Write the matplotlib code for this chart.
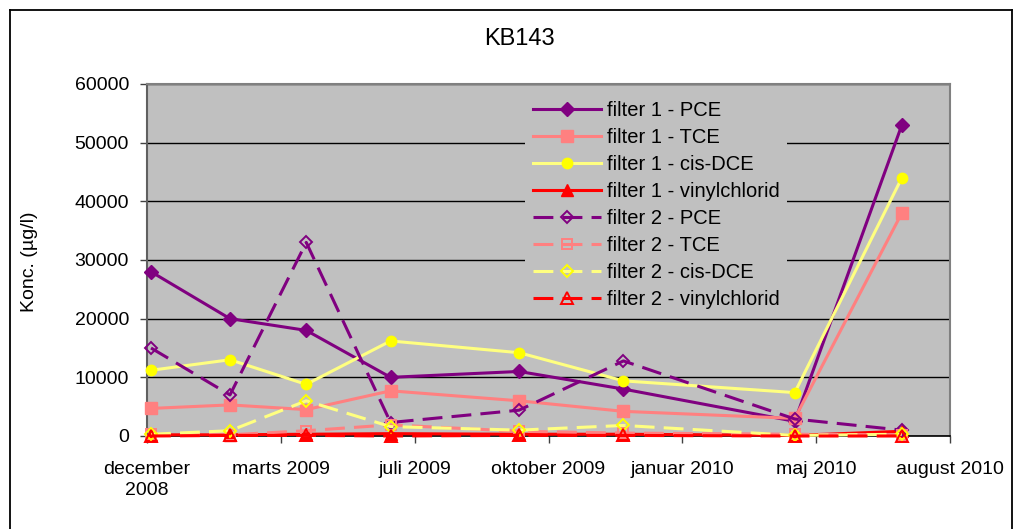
import datetime as dt
import matplotlib
matplotlib.use("Agg")
import matplotlib.pyplot as plt
import matplotlib.dates as mdates
from matplotlib.lines import Line2D

plt.rcParams['font.family'] = ['Liberation Sans', 'DejaVu Sans']

# Sampling dates for borehole KB143
sample_dates = ["2008-12-22", "2009-02-19", "2009-04-17", "2009-06-19",
                "2009-09-23", "2009-12-10", "2010-04-17", "2010-07-06"]

# Concentrations in µg/l
f1_pce = [28000, 20000, 18000, 10000, 11000, 8000, 2500, 53000]
f1_tce = [4700, 5300, 4500, 7700, 6000, 4200, 3000, 38000]
f1_dce = [11200, 13000, 8800, 16200, 14200, 9400, 7400, 44000]
f1_vc = [200, 200, 300, 400, 300, 300, 100, 800]
f2_pce = [15000, 7000, 33000, 2300, 4400, 12800, 2900, 1000]
f2_tce = [300, 200, 900, 1900, 800, 500, 300, 200]
f2_dce = [300, 900, 6000, 1600, 1000, 1800, 100, 300]
f2_vc = [0, 100, 100, 0, 100, 100, 0, 0]

series_labels = ["filter 1 - PCE", "filter 1 - TCE", "filter 1 - cis-DCE",
                 "filter 1 - vinylchlorid", "filter 2 - PCE", "filter 2 - TCE",
                 "filter 2 - cis-DCE", "filter 2 - vinylchlorid"]

axis_start = "2008-12-19"
tick_step_days = 100
tick_labels = ["december\n2008", "marts 2009", "juli 2009", "oktober 2009",
               "januar 2010", "maj 2010", "august 2010"]
y_ticks = [0, 10000, 20000, 30000, 40000, 50000, 60000]

x = mdates.date2num([dt.datetime.fromisoformat(d) for d in sample_dates])
x0 = mdates.date2num(dt.datetime.fromisoformat(axis_start))
x_ticks = [x0 + tick_step_days * i for i in range(len(tick_labels))]

W, H = 1022, 529
fig = plt.figure(figsize=(W / 100, H / 100), dpi=100)
ax = fig.add_axes([147 / W, 1 - 436 / H, (950 - 147) / W, (436 - 84) / H])
ax.set_facecolor("#C0C0C0")

PURPLE = "#800080"
PINK = "#FF8080"
YEL_LINE = "#FFFF80"
YEL = "#FFFF00"
RED = "#FF0000"
LW = 2.2
DASH = (0, (6.5, 3.0))

styles = [
    dict(color=PURPLE, marker="D", ms=7, mfc=PURPLE, mec=PURPLE),
    dict(color=PINK, marker="s", ms=8, mfc=PINK, mec=PINK),
    dict(color=YEL_LINE, marker="o", ms=7.5, mfc=YEL, mec=YEL),
    dict(color=RED, marker="^", ms=8, mfc=RED, mec=RED),
    dict(color=PURPLE, marker="D", ms=6.5, mfc="none", mec=PURPLE, mew=1.4, ls=DASH),
    dict(color=PINK, marker="s", ms=7.5, mfc="none", mec=PINK, mew=1.4, ls=DASH),
    dict(color=YEL_LINE, marker="D", ms=6.5, mfc="none", mec=YEL, mew=1.4, ls=DASH),
    dict(color=RED, marker="^", ms=8, mfc="none", mec=RED, mew=1.4, ls=DASH),
]
data = [f1_pce, f1_tce, f1_dce, f1_vc, f2_pce, f2_tce, f2_dce, f2_vc]

for i, (vals, st, lab) in enumerate(zip(data, styles, series_labels)):
    st = dict(st)
    ls = st.pop("ls", "-")
    ax.plot(x, vals, lw=LW, ls=ls, label=lab, zorder=3 + i, clip_on=False, **st)

ax.set_xlim(x0, x0 + tick_step_days * (len(tick_labels) - 1))
ax.set_ylim(0, 60000)
ax.set_yticks(y_ticks)
ax.set_yticklabels([str(v) for v in y_ticks])
ax.set_xticks(x_ticks)
ax.set_xticklabels(tick_labels, linespacing=1.3)
ax.grid(axis="y", color="black", lw=1.0, zorder=1)
ax.set_axisbelow(True)

ax.tick_params(axis="both", direction="out", length=5, width=1,
               color="#404040", labelsize=14, labelcolor="black")
ax.tick_params(axis="x", pad=13)
ax.tick_params(axis="y", pad=8)

for side in ("top", "right"):
    ax.spines[side].set_color("#808080")
    ax.spines[side].set_linewidth(1.5)
ax.spines["left"].set_color("#606060")
ax.spines["left"].set_linewidth(1.5)
ax.spines["bottom"].set_color("black")
ax.spines["bottom"].set_linewidth(1.2)

leg = ax.legend(loc="upper left", bbox_to_anchor=(525 / W, 1 - 93 / H),
                bbox_transform=fig.transFigure, frameon=True, fancybox=False,
                facecolor="#C0C0C0", edgecolor="none", framealpha=1,
                fontsize=14.5, handlelength=3.35, handletextpad=0.3,
                labelspacing=0.4, borderpad=0.4, borderaxespad=0)
leg.set_zorder(20)

fig.text(519 / W, 1 - 39 / H, "KB143", ha="center", va="center", fontsize=17)
fig.text(29 / W, 1 - 262 / H, "Konc. (µg/l)", ha="center", va="center",
         rotation=90, fontsize=14)

# chart frame
frame_kw = dict(color="black", lw=1.3, transform=fig.transFigure)
fig.add_artist(Line2D([10 / W, 10 / W], [-0.05, 1 - 10 / H], **frame_kw))
fig.add_artist(Line2D([10 / W, 1012 / W], [1 - 10 / H, 1 - 10 / H], **frame_kw))
fig.add_artist(Line2D([1012 / W, 1012 / W], [-0.05, 1 - 10 / H], **frame_kw))

fig.savefig("out.png", dpi=100, facecolor="white")
